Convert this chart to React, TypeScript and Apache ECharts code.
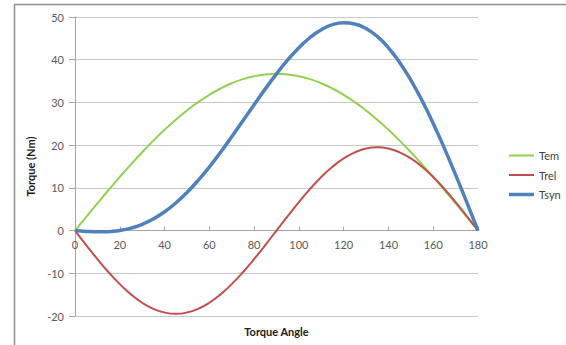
import React, { useEffect, useRef } from "react";
import * as echarts from "echarts";

const angles = [0, 5, 10, 15, 20, 25, 30, 35, 40, 45, 50, 55, 60, 65, 70, 75, 80, 85, 90, 95, 100, 105, 110, 115, 120, 125, 130, 135, 140, 145, 150, 155, 160, 165, 170, 175, 180];
const tem = [0, 3.2, 6.37, 9.5, 12.55, 15.51, 18.35, 21.05, 23.59, 25.95, 28.11, 30.06, 31.78, 33.26, 34.49, 35.45, 36.14, 36.56, 36.7, 36.56, 36.14, 35.45, 34.49, 33.26, 31.78, 30.06, 28.11, 25.95, 23.59, 21.05, 18.35, 15.51, 12.55, 9.5, 6.37, 3.2, 0];
const trel = [0, -3.39, -6.67, -9.75, -12.53, -14.94, -16.89, -18.32, -19.2, -19.5, -19.2, -18.32, -16.89, -14.94, -12.53, -9.75, -6.67, -3.39, 0, 3.39, 6.67, 9.75, 12.53, 14.94, 16.89, 18.32, 19.2, 19.5, 19.2, 18.32, 16.89, 14.94, 12.53, 9.75, 6.67, 3.39, 0];
const tsyn = [0, -0.19, -0.3, -0.25, 0.02, 0.57, 1.46, 2.73, 4.39, 6.45, 8.91, 11.74, 14.89, 18.32, 21.96, 25.7, 29.47, 33.17, 36.7, 39.95, 42.81, 45.2, 47.02, 48.2, 48.67, 48.38, 47.31, 45.45, 42.79, 39.37, 35.24, 30.45, 25.08, 19.25, 13.04, 6.59, 0];
const seriesNames = ["Tem", "Trel", "Tsyn"];
const xTitle = "Torque Angle";
const yTitle = "Torque (Nm)";
const yMin = -20;
const yMax = 50;

const FONT = "Lato, 'Open Sans', sans-serif";
const COLORS = ["#92D050", "#C0504D", "#4F81BD"];
const WIDTHS = [2, 2, 3.5];
const GRID_TOP = 17;
const GRID_H = 299;

export default function App() {
  const ref = useRef<HTMLDivElement>(null);
  useEffect(() => {
    if (!ref.current) return;
    const chart = echarts.init(ref.current, undefined, { renderer: "svg" });
    const pairs = (ys: number[]) => angles.map((a, i) => [a, ys[i]]);
    const allData = [tem, trel, tsyn];
    // shift the bottom axis up to the zero line so labels sit beneath it
    const zeroOffset = -(GRID_H * (0 - yMin)) / (yMax - yMin);
    chart.setOption({
      animation: false,
      backgroundColor: "#ffffff",
      textStyle: { fontFamily: FONT },
      grid: { left: 75, top: GRID_TOP, width: 403, height: GRID_H, containLabel: false, outerBoundsMode: "none" },
      legend: {
        orient: "vertical",
        left: 504,
        top: 145,
        itemWidth: 25,
        itemHeight: 10,
        itemGap: 8.5,
        textStyle: { fontSize: 11, color: "#404040", fontFamily: FONT },
        data: seriesNames.map((n, i) => ({
          name: n,
          icon: `path://M0,0 L25,0 L25,${WIDTHS[i]} L0,${WIDTHS[i]} Z`,
          itemStyle: { color: COLORS[i] },
        })),
      },
      xAxis: {
        type: "value",
        min: 0,
        max: 180,
        interval: 20,
        offset: zeroOffset,
        name: xTitle,
        nameLocation: "middle",
        nameGap: 95,
        nameTextStyle: { fontSize: 11, fontWeight: "bold", color: "#1a1a1a", fontFamily: FONT },
        axisLine: { onZero: false, lineStyle: { color: "#a6a6a6", width: 1 } },
        axisTick: { show: true, inside: true, length: 4, lineStyle: { color: "#a6a6a6" } },
        axisLabel: { fontSize: 11, color: "#595959", margin: 8, fontFamily: FONT },
        splitLine: { show: false },
      },
      yAxis: {
        type: "value",
        min: yMin,
        max: yMax,
        interval: 10,
        name: yTitle,
        nameLocation: "middle",
        nameGap: 38,
        nameRotate: 90,
        nameTextStyle: { fontSize: 11, fontWeight: "bold", color: "#1a1a1a", fontFamily: FONT },
        axisLine: { show: true, onZero: false, lineStyle: { color: "#a6a6a6", width: 1 } },
        axisTick: { show: true, length: 6, lineStyle: { color: "#a6a6a6" } },
        axisLabel: { fontSize: 11, color: "#595959", margin: 11, fontFamily: FONT },
        splitLine: { show: true, lineStyle: { color: "#c8c8c8", width: 1 } },
      },
      series: seriesNames.map((n, i) => ({
        name: n,
        type: "line",
        smooth: true,
        showSymbol: false,
        symbol: "none",
        data: pairs(allData[i]),
        color: COLORS[i],
        lineStyle: { width: WIDTHS[i], color: COLORS[i] },
        z: 2 + i,
      })),
      graphic: [
        { type: "line", shape: { x1: 14, y1: 4.5, x2: 566, y2: 4.5 }, style: { stroke: "#8c8c8c", lineWidth: 1.5 }, z: 10 },
        { type: "line", shape: { x1: 14.5, y1: 4, x2: 14.5, y2: 345 }, style: { stroke: "#8c8c8c", lineWidth: 1.5 }, z: 10 },
      ],
    });
    return () => chart.dispose();
  }, []);
  return (
    <div
      ref={ref}
      style={{ position: "fixed", left: 0, top: 0, width: 566, height: 345, background: "#fff" }}
    />
  );
}
